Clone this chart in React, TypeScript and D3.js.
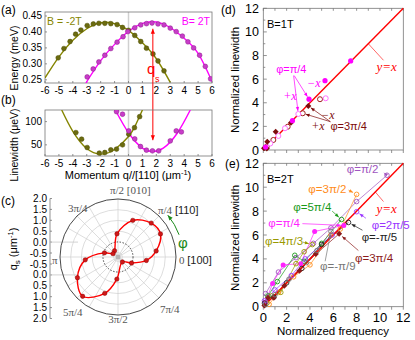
import React from 'react'
import * as d3 from 'd3'

const SANS = '"Liberation Sans", Arial, sans-serif'
const SERIF = '"Liberation Serif", "Times New Roman", serif'

const OLIVE = '#858500'
const OLIVE_PT = '#6b6b10'
const MAGENTA = '#ff00ff'
const MAG_PT = '#c83cc8'
const RED = '#ff0000'
const DARKRED = '#7d0c0c'

// ---- (a) spin-wave dispersion ----
const aTicksX = [-6, -5, -4, -3, -2, -1, 0, 1, 2, 3, 4, 5, 6]
const aTicksY = [0.25, 0.3, 0.35, 0.4, 0.45]
const aNegQ = [-5.05, -4.64, -4.2, -3.8, -3.42, -2.97, -2.53, -2.13, -1.7, -1.27, -0.82, -0.43, 0, 0.45, 0.88, 1.29, 1.76, 2.12, 2.55]
const aNegE = [0.319, 0.348, 0.37, 0.393, 0.406, 0.42, 0.425, 0.427, 0.427, 0.426, 0.423, 0.414, 0.405, 0.389, 0.37, 0.349, 0.331, 0.309, 0.278]
const aPosQ = [-2.97, -2.54, -2.13, -1.7, -1.27, -0.82, -0.39, -0.05, 0.45, 0.88, 1.29, 1.69, 2.12, 2.55, 3.0, 3.43, 3.87, 4.27, 4.68, 5.11, 5.52, 5.9]
const aPosE = [0.259, 0.284, 0.306, 0.327, 0.348, 0.368, 0.385, 0.401, 0.413, 0.422, 0.426, 0.428, 0.425, 0.422, 0.412, 0.401, 0.387, 0.369, 0.35, 0.327, 0.292, 0.253]
const aFitNegQ = [-6, -5, -4, -3, -2, -1, 0, 1, 2, 3]
const aFitNegE = [0.256, 0.322, 0.374, 0.41, 0.429, 0.426, 0.405, 0.366, 0.316, 0.242]
const aFitPosQ = [-3.06, -2, -1, 0, 1, 2, 3, 4, 5, 6]
const aFitPosE = [0.24, 0.31, 0.361, 0.402, 0.427, 0.431, 0.414, 0.38, 0.333, 0.245]

// ---- (b) linewidth ----
const bTicksY = [50, 100]
const bNegQ = [-3.78, -3.37, -2.97, -2.1, -1.7, -1.27, -0.86, -0.43, 0.02, 0.43, 0.8]
const bNegW = [76.4, 62.2, 44.2, 32.2, 33.5, 39.3, 40.8, 50, 73, 87, 110.7]
const bPosQ = [-0.86, -0.43, 0.02, 0.45, 0.86, 1.29, 1.72, 2.17, 3.0, 3.43, 3.8]
const bPosW = [121.5, 115.9, 80, 62.8, 46.4, 38.6, 37.1, 37.1, 58.5, 80, 77.8]
const bFitNegQ = [-4.8, -4, -3, -2, -1, 0, 0.5, 1]
const bFitNegW = [125, 79, 42, 30, 40, 68, 92, 125]
const bFitPosQ = [-0.95, 0, 1, 1.75, 2.5, 3.5, 4.44]
const bFitPosW = [125, 76, 43, 36, 43, 75, 125]

// ---- (c) polar q_s(phi) ----
const cAngles = [9, 28.5, 45.6, 68, 92.5, 119, 146, 163, 185, 207, 228, 250, 267, 311, 336, 353]
const cQs = [1.1, 1.55, 1.51, 1.14, 0.38, -0.37, -0.42, -0.04, 0.83, 1.42, 1.76, 1.1, 0.33, -0.39, -0.01, 0.63]
const cRings = [-0.5, 0.5, 1.0, 1.5]
const cSpokes = [0, 30, 45, 60, 90, 120, 135, 150, 180, 210, 225, 240, 270, 300, 315, 330]
const cAxisTop = [2.0, 1.5, 1.0, 0.5, 0.0, -0.5]
const cAxisBottom = [-0.5, 0.0, 0.5, 1.0, 1.5, 2.0]

// ---- (d) B = 1T ----
const dTicks = [0, 2, 4, 6, 8, 10, 12]
const dPi4FilledX = [0.2, 2.5, 3.92, 5.29, 7.49]
const dPi4FilledY = [0.25, 2.48, 4.3, 5.87, 7.54]
const dPi4OpenX = [0.6, 1.29, 1.86, 3.0, 5.35]
const dPi4OpenY = [0.55, 1.19, 1.84, 3.05, 4.38]
const d3Pi4FilledX = [0.06, 0.3, 0.34, 1.06, 2.37, 3.86]
const d3Pi4FilledY = [0.14, 0.12, 0.7, 1.55, 2.31, 3.73]
const d3Pi4OpenX = [0.3, 0.86, 2.09, 3.38, 4.86]
const d3Pi4OpenY = [0.3, 0.85, 1.97, 3.11, 4.3]

// ---- (e) B = 2T ----
const ePi2X = [0.2, 1.3, 2.8, 4.3, 5.8, 8.0, 10.6]
const ePi2Y = [1.1, 2.9, 4.1, 5.3, 6.6, 8.8, 11.0]
const e3Pi2X = [0.5, 1.3, 2.6, 4.0, 5.8, 6.6, 8.0]
const e3Pi2Y = [0.2, 1.2, 2.5, 3.5, 6.0, 6.5, 9.4]
const e5Pi4X = [0.4, 1.2, 2.7, 3.5, 5.0, 6.7]
const e5Pi4Y = [0.9, 2.1, 4.3, 3.8, 5.3, 7.3]
const ePi4X = [0.2, 0.8, 1.7, 3.2, 4.4, 6.9]
const ePi4Y = [0.4, 1.95, 3.5, 3.6, 6.3, 6.8]
const e4Pi3X = [0.3, 0.7, 1.5, 2.8, 3.5, 4.2]
const e4Pi3Y = [0.3, 0.9, 1.2, 3.6, 4.6, 5.2]
const e2Pi5X = [0.1, 1.0, 2.4, 3.6, 5.9, 8.0]
const e2Pi5Y = [0.5, 1.4, 2.6, 4.0, 6.0, 7.95]
const eMPi5X = [0.1, 0.9, 2.0, 3.3, 5.0, 7.3]
const eMPi5Y = [0.3, 0.8, 2.0, 3.2, 5.2, 7.05]
const e3Pi4X = [0.1, 0.4, 0.9, 1.8, 3.1, 4.5, 6.5]
const e3Pi4Y = [0.1, 0.75, 0.75, 1.75, 3.0, 4.4, 6.1]
const eMPi9X = [0.2, 1.0, 2.2, 3.7, 4.6, 5.8]
const eMPi9Y = [0.2, 1.0, 2.3, 3.7, 4.7, 6.3]

const eSeries = [
  { label: 'φ=π/2', color: '#a055c0', xs: ePi2X, ys: ePi2Y, mark: 'open', lab: [7.15, 11.15], tail: [10.35, 11.2], tip: 6 },
  { label: 'φ=3π/2', color: '#ff8c1a', xs: e3Pi2X, ys: e3Pi2Y, mark: 'open', lab: [3.86, 9.5], tail: [7.3, 9.76], tip: 6 },
  { label: 'φ=5π/4', color: '#1a9a1a', xs: e5Pi4X, ys: e5Pi4Y, mark: 'open', lab: [2.57, 7.97], tail: [5.9, 8.0], tip: 5 },
  { label: 'φ=π/4', color: '#ff22ff', xs: ePi4X, ys: ePi4Y, mark: 'filled', lab: [0.43, 6.7], tail: [3.35, 6.95], tip: 4 },
  { label: 'φ=4π/3', color: '#999900', xs: e4Pi3X, ys: e4Pi3Y, mark: 'open', lab: [0.15, 5.15], tail: [3.4, 5.4], tip: 5 },
  { label: 'φ=2π/5', color: '#9933ff', xs: e2Pi5X, ys: e2Pi5Y, mark: 'open', lab: [9.29, 6.54], tail: [8.8, 7.4], tip: 5 },
  { label: 'φ=-π/5', color: '#222222', xs: eMPi5X, ys: eMPi5Y, mark: 'open', lab: [8.43, 5.5], tail: [8.5, 6.4], tip: 5 },
  { label: 'φ=3π/4', color: '#8b1a1a', xs: e3Pi4X, ys: e3Pi4Y, mark: 'diamond', lab: [7.86, 3.74], tail: [8.15, 4.7], tip: 6 },
  { label: 'φ=-π/9', color: '#777777', xs: eMPi9X, ys: eMPi9Y, mark: 'open', lab: [4.86, 3.07], tail: [5.3, 3.8], tip: 4 },
]

const headPath = (ax: number, ay: number, bx: number, by: number, head: number) => {
  const a = Math.atan2(by - ay, bx - ax)
  const hw = head * 0.42
  const cx = bx - head * Math.cos(a)
  const cy = by - head * Math.sin(a)
  return `M${bx},${by}L${cx + hw * Math.sin(a)},${cy - hw * Math.cos(a)}L${cx - hw * Math.sin(a)},${cy + hw * Math.cos(a)}Z`
}

function Arrow({ x1, y1, x2, y2, color, w = 0.8, head = 4.5, both = false, stop = 0 }: any) {
  const len = Math.hypot(x2 - x1, y2 - y1)
  const ex = x2 - ((x2 - x1) / len) * stop
  const ey = y2 - ((y2 - y1) / len) * stop
  return (
    <g>
      <line x1={x1} y1={y1} x2={ex} y2={ey} stroke={color} strokeWidth={w} />
      <path d={headPath(x1, y1, ex, ey, head)} fill={color} />
      {both && <path d={headPath(ex, ey, x1, y1, head)} fill={color} />}
    </g>
  )
}

const diamond = (x: number, y: number, s: number) => `M${x},${y - s}L${x + s},${y}L${x},${y + s}L${x - s},${y}Z`

export default function App() {
  // (a)/(b) scales
  const xq = d3.scaleLinear().domain([-6, 6]).range([45, 212])
  const yA = d3.scaleLinear().domain([0.24, 0.4625]).range([83, 12])
  const yB = d3.scaleLinear().domain([26, 125]).range([156, 110])
  const curve = d3.line().curve(d3.curveNatural)

  const fitA1 = curve(aFitNegQ.map((q, i) => [xq(q), yA(aFitNegE[i])]))
  const fitA2 = curve(aFitPosQ.map((q, i) => [xq(q), yA(aFitPosE[i])]))
  const fitB1 = curve(bFitNegQ.map((q, i) => [xq(q), yB(bFitNegW[i])]))
  const fitB2 = curve(bFitPosQ.map((q, i) => [xq(q), yB(bFitPosW[i])]))

  // (c) polar
  const pcx = 118
  const pcy = 257
  const R = 58
  const rS = d3.scaleLinear().domain([-0.7, 2.0]).range([0, R])
  const rad = (deg: number) => (deg * Math.PI) / 180
  const polarPts = cAngles.map((a, i) => [pcx + rS(cQs[i]) * Math.cos(rad(a)), pcy - rS(cQs[i]) * Math.sin(rad(a))] as [number, number])
  const polarPath = d3.line().curve(d3.curveCatmullRomClosed.alpha(0.5))(polarPts)
  const axCy = 258.5
  const axS = d3.scaleLinear().domain([-0.5, 2]).range([5.5, 60])
  const phiR = 65
  const phi0 = rad(20)
  const phi1 = rad(40)
  const ps = [pcx + phiR * Math.cos(phi0), pcy - phiR * Math.sin(phi0)]
  const pe = [pcx + phiR * Math.cos(phi1), pcy - phiR * Math.sin(phi1)]

  // (d)/(e) scales
  const xN = d3.scaleLinear().domain([0, 12]).range([263.3, 403.3])
  const yD = d3.scaleLinear().domain([0, 12]).range([150, 8.3])
  const yE = d3.scaleLinear().domain([0, 12]).range([306.7, 163.3])
  const minor = d3.range(0, 13, 1)
  const straight = d3.line()

  const axisGray = '#777'

  return (
    <svg width={415} height={340} style={{ position: 'absolute', left: 0, top: 0, background: '#fff' }} fontFamily={SANS}>
      <defs>
        <clipPath id="clipA"><rect x={45} y={12} width={167} height={71} /></clipPath>
        <clipPath id="clipB"><rect x={45} y={110} width={167} height={46} /></clipPath>
      </defs>

      {/* ===== (a) ===== */}
      <text x={1} y={14} fontSize={12}>(a)</text>
      <line x1={xq(0)} x2={xq(0)} y1={12} y2={83} stroke="#d0d0d0" strokeWidth={1.5} />
      <rect x={45} y={12} width={167} height={71} fill="none" stroke={axisGray} strokeWidth={0.8} />
      {aTicksX.map(t => (
        <g key={'ax' + t}>
          <line x1={xq(t)} x2={xq(t)} y1={83} y2={81} stroke={axisGray} strokeWidth={0.8} />
          <text x={xq(t)} y={94} fontSize={10} textAnchor="middle">{t}</text>
        </g>
      ))}
      {aTicksY.map(t => (
        <g key={'ay' + t}>
          <line x1={45} x2={47} y1={yA(t)} y2={yA(t)} stroke={axisGray} strokeWidth={0.8} />
          <text x={42} y={yA(t)} dy="0.35em" fontSize={10} textAnchor="end">{t.toFixed(2)}</text>
        </g>
      ))}
      <text transform="translate(18,58) rotate(-90)" fontSize={10.5} textAnchor="middle">Energy (meV)</text>
      <g clipPath="url(#clipA)">
        <path d={fitA1 || ''} fill="none" stroke={OLIVE} strokeWidth={1.4} />
        <path d={fitA2 || ''} fill="none" stroke={MAGENTA} strokeWidth={1.4} />
        {aNegQ.map((q, i) => <circle key={'an' + i} cx={xq(q)} cy={yA(aNegE[i])} r={2.4} fill={OLIVE_PT} stroke="#4a4a00" strokeWidth={0.5} />)}
        {aPosQ.map((q, i) => <circle key={'ap' + i} cx={xq(q)} cy={yA(aPosE[i])} r={2.4} fill={MAG_PT} stroke="#8a1a8a" strokeWidth={0.5} />)}
      </g>
      <text x={47} y={25} fontSize={10.5} fill={OLIVE}>B = -2T</text>
      <text x={210} y={25} fontSize={10.5} fill={MAGENTA} textAnchor="end">B= 2T</text>
      <text x={147} y={74} fontSize={15} fill={RED}>q</text>
      <text x={155} y={82} fontSize={9} fill={RED}>s</text>
      <Arrow x1={xq(1.75)} y1={yB(60)} x2={xq(1.75)} y2={yA(0.41)} color={RED} w={1} head={5} both />

      {/* ===== (b) ===== */}
      <text x={1} y={104} fontSize={12}>(b)</text>
      <line x1={xq(0)} x2={xq(0)} y1={110} y2={156} stroke="#d0d0d0" strokeWidth={1.5} />
      <rect x={45} y={110} width={167} height={46} fill="none" stroke={axisGray} strokeWidth={0.8} />
      {aTicksX.map(t => (
        <g key={'bx' + t}>
          <line x1={xq(t)} x2={xq(t)} y1={156} y2={154} stroke={axisGray} strokeWidth={0.8} />
          <text x={xq(t)} y={167} fontSize={10} textAnchor="middle">{t}</text>
        </g>
      ))}
      {bTicksY.map(t => (
        <g key={'by' + t}>
          <line x1={45} x2={47} y1={yB(t)} y2={yB(t)} stroke={axisGray} strokeWidth={0.8} />
          <text x={42} y={yB(t)} dy="0.35em" fontSize={10} textAnchor="end">{t}</text>
        </g>
      ))}
      <text transform="translate(18,145) rotate(-90)" fontSize={10.5} textAnchor="middle">Linewidth (μeV)</text>
      <g clipPath="url(#clipB)">
        <path d={fitB1 || ''} fill="none" stroke={OLIVE} strokeWidth={1.4} />
        <path d={fitB2 || ''} fill="none" stroke={MAGENTA} strokeWidth={1.4} />
        {bNegQ.map((q, i) => <circle key={'bn' + i} cx={xq(q)} cy={yB(bNegW[i])} r={2.4} fill={OLIVE_PT} stroke="#4a4a00" strokeWidth={0.5} />)}
        {bPosQ.map((q, i) => <circle key={'bp' + i} cx={xq(q)} cy={yB(bPosW[i])} r={2.4} fill={MAG_PT} stroke="#8a1a8a" strokeWidth={0.5} />)}
      </g>
      <text x={128} y={179} fontSize={11} textAnchor="middle">
        Momentum q//[110] (μm<tspan dy={-4} fontSize={7.5}>-1</tspan><tspan dy={4}>)</tspan>
      </text>

      {/* ===== (c) ===== */}
      <text x={1} y={205} fontSize={12}>(c)</text>
      <line x1={50} x2={50} y1={axCy - 60} y2={axCy + 60} stroke={axisGray} strokeWidth={0.8} />
      {cAxisTop.map((t, i) => (
        <g key={'ct' + i}>
          <line x1={50} x2={52} y1={axCy - axS(t)} y2={axCy - axS(t)} stroke={axisGray} strokeWidth={0.8} />
          <text x={47} y={axCy - axS(t)} dy="0.35em" fontSize={10} textAnchor="end">{t.toFixed(1)}</text>
        </g>
      ))}
      {cAxisBottom.map((t, i) => (
        <g key={'cb' + i}>
          <line x1={50} x2={52} y1={axCy + axS(t)} y2={axCy + axS(t)} stroke={axisGray} strokeWidth={0.8} />
          <text x={47} y={axCy + axS(t)} dy="0.35em" fontSize={10} textAnchor="end">{t.toFixed(1)}</text>
        </g>
      ))}
      <line x1={50} x2={78} y1={axCy - axS(0)} y2={axCy - axS(0)} stroke="#c8c8c8" strokeWidth={0.8} />
      <line x1={50} x2={78} y1={axCy + axS(0)} y2={axCy + axS(0)} stroke="#c8c8c8" strokeWidth={0.8} />
      <text fontSize={11} textAnchor="middle" transform="translate(17,249) rotate(-90)">
        q<tspan dy={3} fontSize={8}>s</tspan><tspan dy={-3}> (μm</tspan><tspan dy={-4} fontSize={7.5}>-1</tspan><tspan dy={4}>)</tspan>
      </text>
      {cSpokes.map(a => (
        <line key={'sp' + a} x1={pcx} y1={pcy} x2={pcx + R * Math.cos(rad(a))} y2={pcy - R * Math.sin(rad(a))} stroke="#cfcfcf" strokeWidth={0.7} />
      ))}
      {cRings.map(q => <circle key={'rg' + q} cx={pcx} cy={pcy} r={rS(q)} fill="none" stroke="#cfcfcf" strokeWidth={0.7} />)}
      <circle cx={pcx} cy={pcy} r={rS(0)} fill="none" stroke="#222" strokeWidth={0.8} strokeDasharray="1.5,1.5" />
      <circle cx={pcx} cy={pcy} r={R} fill="none" stroke="#333" strokeWidth={0.9} />
      <circle cx={pcx} cy={pcy} r={2.5} fill="#b5b5b5" />
      <path d={polarPath || ''} fill="none" stroke={RED} strokeWidth={1.4} />
      {polarPts.map((p, i) => <circle key={'cp' + i} cx={p[0]} cy={p[1]} r={2.2} fill="#d01818" stroke="#800" strokeWidth={0.5} />)}
      <g fontFamily={SERIF} fontSize={11} fill="#555">
        <text x={pcx - 8} y={194}>π/2 [010]</text>
        <text x={68} y={212}>3π/4</text>
        <text x={158} y={214}>π/4 <tspan fill="#222" fontFamily={SANS}>[110]</tspan></text>
        <text x={52} y={264}>π</text>
        <text x={179} y={264}>0 <tspan fill="#222" fontFamily={SANS}>[100]</tspan></text>
        <text x={63} y={316}>5π/4</text>
        <text x={pcx} y={323} textAnchor="middle">3π/2</text>
        <text x={160} y={313}>7π/4</text>
      </g>
      <path d={`M${ps[0]},${ps[1]}A${phiR},${phiR} 0 0 0 ${pe[0]},${pe[1]}`} fill="none" stroke="#1a8a1a" strokeWidth={1} />
      <path d={headPath(pe[0] + Math.sin(phi1) * 3, pe[1] + Math.cos(phi1) * 3, pe[0], pe[1], 5)} fill="#1a8a1a" />
      <text x={178} y={248} fontSize={15} fill="#1a8a1a">φ</text>

      {/* ===== (d) ===== */}
      <text x={221} y={14} fontSize={12}>(d)</text>
      <rect x={xN(0)} y={yD(12)} width={xN(12) - xN(0)} height={yD(0) - yD(12)} fill="none" stroke={axisGray} strokeWidth={0.8} />
      {minor.map(t => (
        <g key={'dx' + t}>
          <line x1={xN(t)} x2={xN(t)} y1={yD(0)} y2={yD(0) + 3} stroke={axisGray} strokeWidth={0.8} />
          <line x1={xN(t)} x2={xN(t)} y1={yD(12)} y2={yD(12) + 2.5} stroke={axisGray} strokeWidth={0.8} />
          <line x1={xN(0)} x2={xN(0) + (t % 2 ? 2 : 3.5)} y1={yD(t)} y2={yD(t)} stroke={axisGray} strokeWidth={0.8} />
        </g>
      ))}
      {dTicks.map(t => (
        <text key={'dy' + t} x={259} y={yD(t)} dy="0.36em" fontSize={12.5} textAnchor="end">{t}</text>
      ))}
      <text transform="translate(239,80) rotate(-90)" fontSize={11.5} textAnchor="middle">Normalized linewidth</text>
      <text x={267} y={28} fontSize={11}>B=1T</text>
      <path d={straight([[xN(0), yD(0)], [xN(12), yD(12)]]) || ''} stroke={RED} strokeWidth={1.4} />
      <line x1={xN(9)} y1={yD(9)} x2={xN(10.3)} y2={yD(7.6)} stroke={RED} strokeWidth={0.6} />
      <text x={xN(9.7)} y={yD(6.7)} fontSize={13} fill={RED} fontFamily={SERIF} fontStyle="italic">y=x</text>
      {d3Pi4OpenX.map((x, i) => <circle key={'d4o' + i} cx={xN(x)} cy={yD(d3Pi4OpenY[i])} r={2.5} fill="#fff" stroke="#a02020" strokeWidth={1} />)}
      {dPi4OpenX.map((x, i) => <circle key={'d1o' + i} cx={xN(x)} cy={yD(dPi4OpenY[i])} r={2.5} fill="#fff" stroke="#ff70ff" strokeWidth={1} />)}
      {d3Pi4FilledX.map((x, i) => <path key={'d4f' + i} d={diamond(xN(x), yD(d3Pi4FilledY[i]), 3)} fill={DARKRED} />)}
      {dPi4FilledX.map((x, i) => <circle key={'d1f' + i} cx={xN(x)} cy={yD(dPi4FilledY[i])} r={2.6} fill={MAGENTA} />)}
      <text x={xN(1.1)} y={yD(6.5)} fontSize={11} fill={MAGENTA}>φ=π/4</text>
      <Arrow x1={xN(2.65)} y1={yD(6.3)} x2={xN(dPi4FilledX[2])} y2={yD(dPi4FilledY[2])} color={MAGENTA} w={0.7} head={4} stop={3} />
      <Arrow x1={xN(2.6)} y1={yD(6.3)} x2={xN(dPi4OpenX[3])} y2={yD(dPi4OpenY[3])} color={MAGENTA} w={0.7} head={4} stop={3} />
      <text x={xN(3.75)} y={yD(5.35)} fontSize={12} fill={MAGENTA} fontFamily={SERIF} fontStyle="italic">−x</text>
      <text x={xN(1.7)} y={yD(4.25)} fontSize={12} fill={MAGENTA} fontFamily={SERIF} fontStyle="italic">+x</text>
      <Arrow x1={xN(5.75)} y1={yD(2.4)} x2={xN(d3Pi4FilledX[5])} y2={yD(d3Pi4FilledY[5])} color={DARKRED} w={0.7} head={4} stop={3} />
      <Arrow x1={xN(5.75)} y1={yD(2.4)} x2={xN(d3Pi4OpenX[3])} y2={yD(d3Pi4OpenY[3])} color={DARKRED} w={0.7} head={4} stop={3} />
      <text x={xN(4.95)} y={yD(2.6)} fontSize={12} fill={DARKRED} fontFamily={SERIF} fontStyle="italic">−x</text>
      <text x={xN(4.1)} y={yD(1.7)} fontSize={12} fill={DARKRED} fontFamily={SERIF} fontStyle="italic">+x</text>
      <text x={xN(5.75)} y={yD(1.7)} fontSize={11} fill={DARKRED}>φ=3π/4</text>

      {/* ===== (e) ===== */}
      <text x={225} y={168} fontSize={12}>(e)</text>
      <rect x={xN(0)} y={yE(12)} width={xN(12) - xN(0)} height={yE(0) - yE(12)} fill="none" stroke={axisGray} strokeWidth={0.8} />
      {minor.map(t => (
        <g key={'ex' + t}>
          <line x1={xN(t)} x2={xN(t)} y1={yE(0)} y2={yE(0) + 3} stroke={axisGray} strokeWidth={0.8} />
          <line x1={xN(t)} x2={xN(t)} y1={yE(12)} y2={yE(12) + 2.5} stroke={axisGray} strokeWidth={0.8} />
          <line x1={xN(0)} x2={xN(0) + (t % 2 ? 2 : 3.5)} y1={yE(t)} y2={yE(t)} stroke={axisGray} strokeWidth={0.8} />
        </g>
      ))}
      {dTicks.map(t => (
        <g key={'ey' + t}>
          <text x={259} y={yE(t)} dy="0.36em" fontSize={12.5} textAnchor="end">{t}</text>
          <text x={xN(t)} y={321.5} fontSize={13} textAnchor="middle">{t}</text>
        </g>
      ))}
      <text transform="translate(239,238) rotate(-90)" fontSize={11.5} textAnchor="middle">Normalized linewidth</text>
      <text x={333} y={335} fontSize={11.5} textAnchor="middle">Normalized frequency</text>
      <text x={267} y={183} fontSize={11}>B=2T</text>
      {eSeries.map(s => (
        <path key={'el' + s.label} d={straight(s.xs.map((x, i) => [xN(x), yE(s.ys[i])])) || ''} fill="none" stroke={s.color} strokeWidth={0.7} />
      ))}
      <path d={straight([[xN(0), yE(0)], [xN(12), yE(12)]]) || ''} stroke={RED} strokeWidth={1.4} />
      <line x1={xN(9.6)} y1={yE(9.6)} x2={xN(10.3)} y2={yE(8.8)} stroke={RED} strokeWidth={0.6} />
      <text x={xN(9.7)} y={yE(7.8)} fontSize={13} fill={RED} fontFamily={SERIF} fontStyle="italic">y=x</text>
      {eSeries.map(s => (
        <g key={'em' + s.label}>
          {s.xs.map((x, i) =>
            s.mark === 'diamond' ? (
              <path key={i} d={diamond(xN(x), yE(s.ys[i]), 3)} fill={s.color} />
            ) : s.mark === 'filled' ? (
              <circle key={i} cx={xN(x)} cy={yE(s.ys[i])} r={2.5} fill={s.color} />
            ) : (
              <circle key={i} cx={xN(x)} cy={yE(s.ys[i])} r={2.3} fill="none" stroke={s.color} strokeWidth={0.9} />
            )
          )}
        </g>
      ))}
      {eSeries.map(s => {
        const n = s.xs.length - 1
        return (
          <g key={'ea' + s.label}>
            <Arrow x1={xN(s.tail[0])} y1={yE(s.tail[1])} x2={xN(s.xs[n])} y2={yE(s.ys[n])} color={s.color} w={0.7} head={4} stop={s.tip / 2 + 1} />
            <text x={xN(s.lab[0])} y={yE(s.lab[1])} fontSize={11.5} fill={s.color}>{s.label}</text>
          </g>
        )
      })}
    </svg>
  )
}
